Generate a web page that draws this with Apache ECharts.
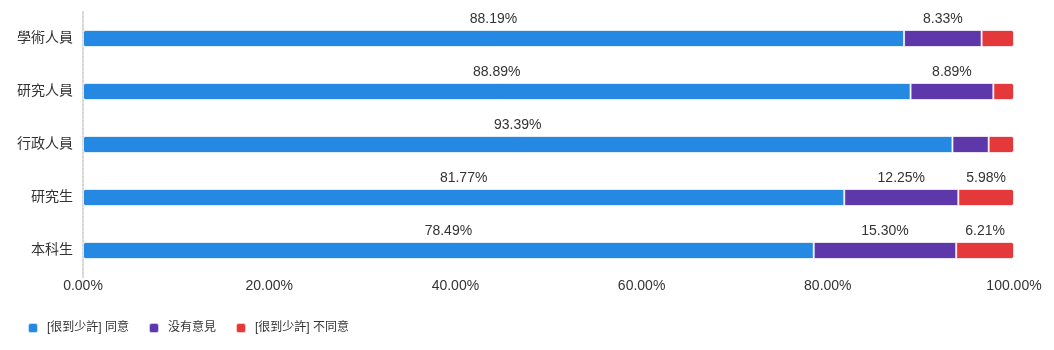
<!DOCTYPE html>
<html>
<head>
<meta charset="utf-8">
<style>
  html, body { margin: 0; padding: 0; background: #fff; }
  #chart { width: 1054px; height: 350px; }
</style>
<script src="https://cdn.jsdelivr.net/npm/echarts@6/dist/echarts.min.js"></script>
</head>
<body>
<div id="chart"></div>
<script>
// Staff and student groups, top to bottom
const categories = ['學術人員', '研究人員', '行政人員', '研究生', '本科生'];

// Share of responses (%) per group
const agree    = [88.19, 88.89, 93.39, 81.77, 78.49];
const neutral  = [8.33, 8.89, 3.89, 12.25, 15.30];
const disagree = [3.48, 2.22, 2.72, 5.98, 6.21];

const seriesNames = ['[很到少許] 同意', '没有意見', '[很到少許] 不同意'];
const seriesColors = ['#2588e2', '#5e37aa', '#e5383b'];
const xTicks = [0, 20, 40, 60, 80, 100];

const FONT = '"Liberation Sans", Arial, "Noto Sans CJK TC", sans-serif';

const chart = echarts.init(document.getElementById('chart'));

function makeSeries(name, data, color, radius) {
  return {
    name: name,
    type: 'bar',
    stack: 'total',
    barWidth: 17,
    data: data,
    itemStyle: {
      color: color,
      borderColor: 'rgba(255,255,255,0.7)',
      borderWidth: 1,
      borderRadius: radius
    },
    label: {
      show: true,
      position: 'top',
      distance: 4,
      color: '#333',
      fontSize: 14,
      fontFamily: FONT,
      formatter: p => (p.value >= 5 ? p.value.toFixed(2) + '%' : '')
    },
    emphasis: { disabled: true }
  };
}

chart.setOption({
  animation: false,
  textStyle: { fontFamily: FONT },
  grid: { left: 83, right: 40, top: 12, height: 265 },
  legend: {
    bottom: 11,
    left: 22,
    itemWidth: 10,
    itemHeight: 10,
    itemGap: 19,
    icon: 'roundRect',
    textStyle: { color: '#333', fontSize: 12, fontFamily: FONT, padding: [0, 0, 0, 4] },
    data: seriesNames
  },
  xAxis: {
    type: 'value',
    min: xTicks[0],
    max: xTicks[xTicks.length - 1],
    interval: 20,
    axisLine: { show: false },
    axisTick: { show: false },
    splitLine: { show: false },
    axisLabel: {
      color: '#333',
      fontSize: 14,
      margin: 2,
      fontFamily: FONT,
      formatter: v => v.toFixed(2) + '%'
    }
  },
  yAxis: {
    type: 'category',
    inverse: true,
    data: categories,
    axisTick: { show: false },
    axisLine: {
      show: true,
      lineStyle: { color: '#d6d6d6', type: 'dotted', width: 2 }
    },
    axisLabel: { color: '#333', fontSize: 14, margin: 10, fontFamily: FONT }
  },
  series: [
    makeSeries(seriesNames[0], agree, seriesColors[0], [2, 0, 0, 2]),
    makeSeries(seriesNames[1], neutral, seriesColors[1], 0),
    makeSeries(seriesNames[2], disagree, seriesColors[2], [0, 2, 2, 0])
  ]
});
</script>
</body>
</html>
